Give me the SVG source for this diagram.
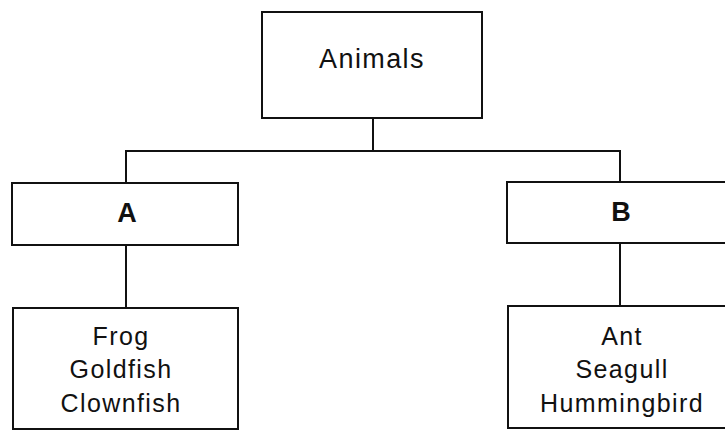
<svg xmlns="http://www.w3.org/2000/svg" width="725" height="431" viewBox="0 0 725 431">
<style>
.box{fill:#fff;stroke:#111;stroke-width:2}
.con{fill:none;stroke:#111;stroke-width:2}
.t{font-family:"Liberation Sans",Arial,sans-serif;font-size:25px;fill:#111;text-anchor:middle;letter-spacing:1.4px}
.b{font-family:"Liberation Sans",Arial,sans-serif;font-size:27px;font-weight:bold;fill:#111;text-anchor:middle}
</style>
<rect width="725" height="431" fill="#fff"/>
<g id="connectors">
<path class="con" d="M373 118 V151 M126 183 V151 H620 V182"/>
<path class="con" d="M126 245 V308"/>
<path class="con" d="M620 243 V306"/>
</g>
<g id="animals">
<rect class="box" x="262" y="12" width="220" height="106"/>
<text class="t" x="372" y="68" style="font-size:27px">Animals</text>
</g>
<g id="a">
<rect class="box" x="12" y="183" width="226" height="62"/>
<text class="b" x="127" y="222">A</text>
</g>
<g id="b">
<rect class="box" x="507" y="182" width="230" height="61"/>
<text class="b" x="621" y="221">B</text>
</g>
<g id="a-list">
<rect class="box" x="13" y="308" width="225" height="121"/>
<text class="t" x="121" y="345">Frog</text>
<text class="t" x="121" y="378">Goldfish</text>
<text class="t" x="121" y="412">Clownfish</text>
</g>
<g id="b-list">
<rect class="box" x="508" y="306" width="230" height="122"/>
<text class="t" x="622" y="345">Ant</text>
<text class="t" x="622" y="378">Seagull</text>
<text class="t" x="622" y="412">Hummingbird</text>
</g>
</svg>
